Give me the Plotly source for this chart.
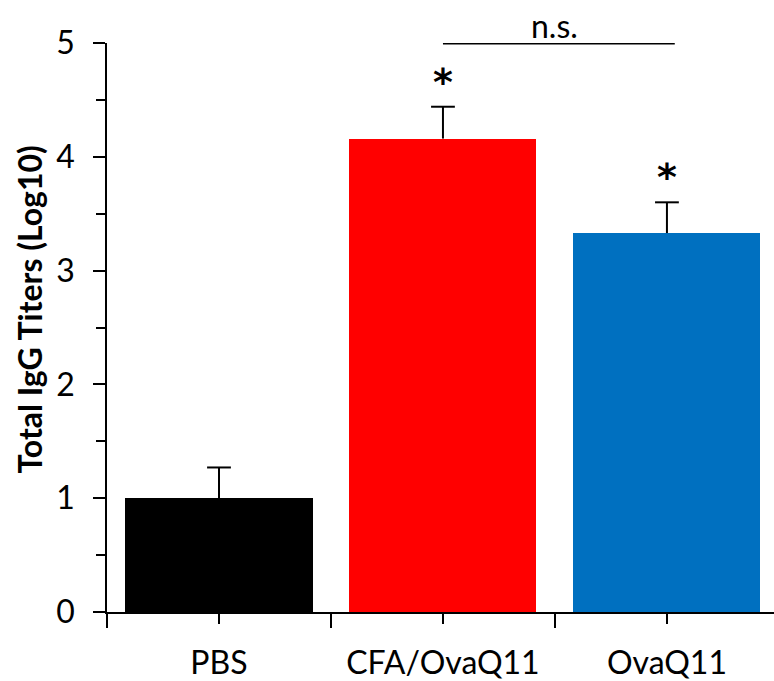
import plotly.graph_objects as go

categories = ["PBS", "CFA/OvaQ11", "OvaQ11"]
means = [1.00, 4.16, 3.33]
errors = [0.27, 0.28, 0.27]
colors = ["#000000", "#FF0000", "#0070C0"]
stars = ["", "*", "*"]
y_ticks = [0, 1, 2, 3, 4, 5]
ns_pair = [1, 2]
ns_label = "n.s."
y_title = "Total IgG Titers (Log10)"

xpos = list(range(len(categories)))
FONT = "Lato"
tops = [m + e for m, e in zip(means, errors)]

fig = go.Figure()
fig.add_trace(go.Bar(
    x=xpos, y=means, width=0.835,
    marker=dict(color=colors, line=dict(width=0)),
    showlegend=False,
))
# upper-only error bars: stem via error_y (no caps), cap via marker
fig.add_trace(go.Scatter(
    x=xpos, y=tops, mode="markers",
    marker=dict(symbol="line-ew-open", size=17, color="black", line=dict(color="black", width=2)),
    error_y=dict(type="data", symmetric=False, array=[0]*3, arrayminus=errors,
                 color="black", thickness=2, width=0),
    showlegend=False, hoverinfo="skip",
))

for i, s in enumerate(stars):
    if s:
        fig.add_annotation(x=xpos[i], y=tops[i], text="<b>" + s + "</b>", showarrow=False,
                           yanchor="middle", yshift=25,
                           font=dict(family="DejaVu Sans", size=38, color="black"))

fig.add_shape(type="line", xref="x", yref="y",
              x0=ns_pair[0], x1=ns_pair[1] + 0.035, y0=5.0, y1=5.0,
              line=dict(color="black", width=3))
fig.add_annotation(x=(ns_pair[0] + ns_pair[1]) / 2, y=5.0, text=ns_label, showarrow=False,
                   yanchor="bottom", yshift=-3, borderpad=0,
                   font=dict(family=FONT, size=32, color="black"))

fig.add_annotation(xref="paper", yref="paper", x=0, y=0.5, xanchor="center", yanchor="middle",
                   xshift=-78, yshift=18, textangle=-90, showarrow=False,
                   text="<b>" + y_title + "</b>", font=dict(family=FONT, size=32, color="black"))

fig.update_layout(
    width=774, height=681,
    margin=dict(l=107, r=0, t=43, b=67),
    plot_bgcolor="white", paper_bgcolor="white",
    font=dict(family=FONT, color="black"),
    bargap=0,
)
fig.update_xaxes(
    range=[-0.5, 2.478], showline=True, linecolor="black", linewidth=1.5,
    tickmode="array", tickvals=xpos, ticktext=categories,
    ticks="outside", ticklen=10, tickwidth=1.5, tickcolor="black",
    tickfont=dict(family=FONT, size=32, color="black"),
    minor=dict(tickmode="array", tickvals=[-0.5, 0.5, 1.5, 2.5], ticks="outside",
               ticklen=14, tickwidth=1.5, tickcolor="black"),
    showgrid=False, zeroline=False, ticklabelstandoff=12,
)
fig.update_yaxes(
    range=[0, 5], showline=True, linecolor="black", linewidth=1.5,
    tickmode="array", tickvals=y_ticks,
    ticks="outside", ticklen=12, tickwidth=1.5, tickcolor="black",
    tickfont=dict(family=FONT, size=32, color="black"),
    minor=dict(dtick=0.5, ticks="outside", ticklen=9, tickwidth=1.5, tickcolor="black"),
    showgrid=False, zeroline=False, ticklabelstandoff=12,
)
fig.write_html("out.html", config={"displayModeBar": False},
               post_script="document.body.style.margin='0';document.body.style.overflow='hidden';")
